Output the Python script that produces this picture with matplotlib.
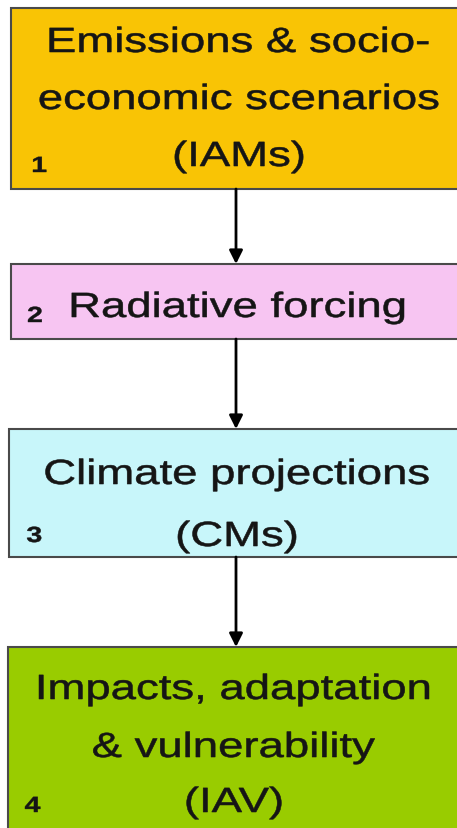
import matplotlib.pyplot as plt
from matplotlib.patches import Rectangle, PathPatch
from matplotlib.textpath import TextPath
from matplotlib.font_manager import FontProperties
from matplotlib.transforms import Affine2D

# Flowchart content
step_numbers = ['1', '2', '3', '4']
step_lines = [
    ['Emissions & socio-', 'economic scenarios', '(IAMs)'],
    ['Radiative forcing'],
    ['Climate projections', '(CMs)'],
    ['Impacts, adaptation', '& vulnerability', '(IAV)'],
]
box_colors = ['#f9c405', '#f7c5f2', '#c8f6fa', '#99cc00']

# layout (pixels, y measured from the top)
W, H = 457, 829
box_x = [11, 11, 9, 8]
box_top = [9, 265, 430, 648]
box_bottom = [190, 340, 558, 835]
line_baselines = [[53, 110, 167], [318], [485, 547], [700, 758, 813]]
text_x = [239, 238, 237, 234]
num_pos = [(33, 173), (28, 323), (27, 543), (25, 813)]
arrow_x = 236
stretch = 1.3  # the original image is squeezed wider than tall

regular = FontProperties(family='Liberation Sans')
bold = FontProperties(family='Liberation Sans', weight='bold')


def draw_text(ax, s, x, y, size, prop, ha='center', lw=0.4):
    # text as a path so it can be stretched horizontally like the original
    tp = TextPath((0, 0), s, size=1, prop=prop)
    ext = tp.get_extents()
    if ha == 'center':
        dx = -(ext.x0 + ext.x1) / 2
    else:
        dx = -ext.x0
    tr = Affine2D().translate(dx, 0).scale(stretch * size, -size).translate(x, y)
    ax.add_patch(PathPatch(tr.transform_path(tp), facecolor='#151515',
                           edgecolor='#151515', linewidth=lw))


fig = plt.figure(figsize=(W / 100, H / 100), dpi=100)
ax = fig.add_axes([0, 0, 1, 1])
ax.set_xlim(0, W)
ax.set_ylim(H, 0)
ax.axis('off')

for i in range(len(step_lines)):
    rect = Rectangle((box_x[i], box_top[i]), W + 5 - box_x[i],
                     box_bottom[i] - box_top[i],
                     facecolor=box_colors[i], edgecolor='#4a4a4a', linewidth=1.5)
    ax.add_patch(rect)
    for line, yb in zip(step_lines[i], line_baselines[i]):
        draw_text(ax, line, text_x[i], yb, 35, regular)
    nx, ny = num_pos[i]
    draw_text(ax, step_numbers[i], nx, ny, 22, bold, ha='left', lw=0.3)

# arrows between boxes
for i in range(len(step_lines) - 1):
    ax.annotate('', xy=(arrow_x, box_top[i + 1]), xytext=(arrow_x, box_bottom[i]),
                arrowprops=dict(arrowstyle='-|>', color='black', lw=2,
                                mutation_scale=20, shrinkA=0, shrinkB=0))

fig.savefig('out.png', dpi=100)
